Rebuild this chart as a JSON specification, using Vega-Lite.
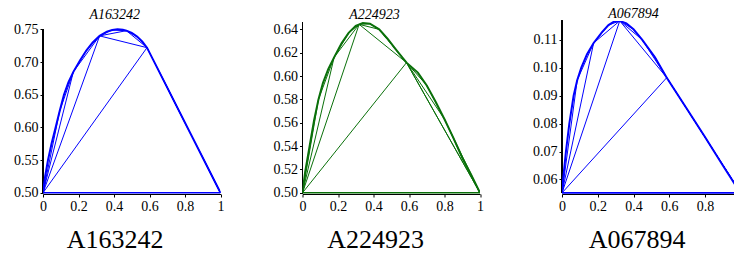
{
  "$schema": "https://vega.github.io/schema/vega-lite/v6.json",
  "padding": {"left": 13, "top": 7, "right": 0, "bottom": 0},
  "background": "white",
  "config": {
    "font": "Liberation Serif",
    "view": {"stroke": null},
    "axis": {"labelFont": "Liberation Serif", "titleFont": "Liberation Serif", "labelColor": "black", "tickColor": "black", "domainColor": "black", "titleColor": "black", "grid": false, "labelFontSize": 14, "tickSize": 3, "labelPadding": 2, "labelFlush": false, "titleFontWeight": "normal", "titleFontSize": 26},
    "title": {"font": "Liberation Serif", "fontStyle": "italic", "fontWeight": "normal", "fontSize": 14, "color": "black", "frame": "group", "offset": -1}
  },
  "bounds": "flush",
  "spacing": 81.5,
  "datasets": {
    "p1": [
      {"s": "L0", "x": 0, "y": 0.5}, {"s": "L0", "x": 1, "y": 0.5},
      {"s": "L1", "x": 0, "y": 0.5}, {"s": "L1", "x": 0.586, "y": 0.722}, {"s": "L1", "x": 1, "y": 0.5},
      {"s": "L2", "x": 0, "y": 0.5}, {"s": "L2", "x": 0.319, "y": 0.74}, {"s": "L2", "x": 0.586, "y": 0.722}, {"s": "L2", "x": 1, "y": 0.5},
      {"s": "L3", "x": 0, "y": 0.5}, {"s": "L3", "x": 0.171, "y": 0.685}, {"s": "L3", "x": 0.319, "y": 0.74}, {"s": "L3", "x": 0.47, "y": 0.748}, {"s": "L3", "x": 0.586, "y": 0.722}, {"s": "L3", "x": 1, "y": 0.5},
      {"s": "L4", "x": 0, "y": 0.5}, {"s": "L4", "x": 0.094, "y": 0.625}, {"s": "L4", "x": 0.171, "y": 0.685}, {"s": "L4", "x": 0.245, "y": 0.718}, {"s": "L4", "x": 0.319, "y": 0.74}, {"s": "L4", "x": 0.39, "y": 0.749}, {"s": "L4", "x": 0.47, "y": 0.748}, {"s": "L4", "x": 0.53, "y": 0.739}, {"s": "L4", "x": 0.586, "y": 0.722}, {"s": "L4", "x": 1, "y": 0.5},
      {"s": "curve", "x": 0, "y": 0.5}, {"s": "curve", "x": 0.012, "y": 0.525}, {"s": "curve", "x": 0.028, "y": 0.55}, {"s": "curve", "x": 0.048, "y": 0.575}, {"s": "curve", "x": 0.071, "y": 0.6}, {"s": "curve", "x": 0.094, "y": 0.625}, {"s": "curve", "x": 0.118, "y": 0.65}, {"s": "curve", "x": 0.143, "y": 0.669}, {"s": "curve", "x": 0.171, "y": 0.685}, {"s": "curve", "x": 0.21, "y": 0.703}, {"s": "curve", "x": 0.245, "y": 0.718}, {"s": "curve", "x": 0.28, "y": 0.73}, {"s": "curve", "x": 0.319, "y": 0.74}, {"s": "curve", "x": 0.36, "y": 0.7465}, {"s": "curve", "x": 0.39, "y": 0.749}, {"s": "curve", "x": 0.42, "y": 0.75}, {"s": "curve", "x": 0.45, "y": 0.7495}, {"s": "curve", "x": 0.47, "y": 0.748}, {"s": "curve", "x": 0.5, "y": 0.7445}, {"s": "curve", "x": 0.53, "y": 0.739}, {"s": "curve", "x": 0.56, "y": 0.731}, {"s": "curve", "x": 0.586, "y": 0.722}, {"s": "curve", "x": 1, "y": 0.5}
    ],
    "p2": [
      {"s": "L0", "x": 0, "y": 0.5}, {"s": "L0", "x": 1, "y": 0.5},
      {"s": "L1", "x": 0, "y": 0.5}, {"s": "L1", "x": 0.586, "y": 0.6115}, {"s": "L1", "x": 1, "y": 0.5},
      {"s": "L2", "x": 0, "y": 0.5}, {"s": "L2", "x": 0.319, "y": 0.6443}, {"s": "L2", "x": 0.586, "y": 0.6115}, {"s": "L2", "x": 1, "y": 0.5},
      {"s": "L3", "x": 0, "y": 0.5}, {"s": "L3", "x": 0.178, "y": 0.616}, {"s": "L3", "x": 0.319, "y": 0.6443}, {"s": "L3", "x": 0.432, "y": 0.64}, {"s": "L3", "x": 0.586, "y": 0.6115}, {"s": "L3", "x": 0.8, "y": 0.563}, {"s": "L3", "x": 1, "y": 0.5},
      {"s": "L4", "x": 0, "y": 0.5}, {"s": "L4", "x": 0.09, "y": 0.58}, {"s": "L4", "x": 0.178, "y": 0.616}, {"s": "L4", "x": 0.26, "y": 0.637}, {"s": "L4", "x": 0.319, "y": 0.6443}, {"s": "L4", "x": 0.38, "y": 0.6448}, {"s": "L4", "x": 0.432, "y": 0.64}, {"s": "L4", "x": 0.53, "y": 0.622}, {"s": "L4", "x": 0.586, "y": 0.6115}, {"s": "L4", "x": 0.7, "y": 0.592}, {"s": "L4", "x": 0.8, "y": 0.563}, {"s": "L4", "x": 0.9, "y": 0.53}, {"s": "L4", "x": 1, "y": 0.5},
      {"s": "curve", "x": 0, "y": 0.5}, {"s": "curve", "x": 0.015, "y": 0.518}, {"s": "curve", "x": 0.04, "y": 0.54}, {"s": "curve", "x": 0.065, "y": 0.562}, {"s": "curve", "x": 0.09, "y": 0.58}, {"s": "curve", "x": 0.115, "y": 0.594}, {"s": "curve", "x": 0.145, "y": 0.606}, {"s": "curve", "x": 0.178, "y": 0.616}, {"s": "curve", "x": 0.22, "y": 0.628}, {"s": "curve", "x": 0.26, "y": 0.637}, {"s": "curve", "x": 0.3, "y": 0.643}, {"s": "curve", "x": 0.34, "y": 0.6455}, {"s": "curve", "x": 0.38, "y": 0.6448}, {"s": "curve", "x": 0.432, "y": 0.64}, {"s": "curve", "x": 0.479, "y": 0.632}, {"s": "curve", "x": 0.53, "y": 0.622}, {"s": "curve", "x": 0.586, "y": 0.6115}, {"s": "curve", "x": 0.65, "y": 0.603}, {"s": "curve", "x": 0.7, "y": 0.592}, {"s": "curve", "x": 0.75, "y": 0.578}, {"s": "curve", "x": 0.8, "y": 0.563}, {"s": "curve", "x": 0.85, "y": 0.547}, {"s": "curve", "x": 0.9, "y": 0.53}, {"s": "curve", "x": 0.95, "y": 0.5155}, {"s": "curve", "x": 1, "y": 0.5}
    ],
    "p3": [
      {"s": "L0", "x": 0, "y": 0.0552}, {"s": "L0", "x": 1, "y": 0.0552},
      {"s": "L1", "x": 0, "y": 0.0552}, {"s": "L1", "x": 0.586, "y": 0.0964}, {"s": "L1", "x": 1, "y": 0.0552},
      {"s": "L2", "x": 0, "y": 0.0552}, {"s": "L2", "x": 0.323, "y": 0.1167}, {"s": "L2", "x": 0.586, "y": 0.0964}, {"s": "L2", "x": 1, "y": 0.0552},
      {"s": "L3", "x": 0, "y": 0.0552}, {"s": "L3", "x": 0.177, "y": 0.1088}, {"s": "L3", "x": 0.323, "y": 0.1167}, {"s": "L3", "x": 0.448, "y": 0.11}, {"s": "L3", "x": 0.586, "y": 0.0964}, {"s": "L3", "x": 1, "y": 0.0552},
      {"s": "L4", "x": 0, "y": 0.0552}, {"s": "L4", "x": 0.085, "y": 0.0955}, {"s": "L4", "x": 0.177, "y": 0.1088}, {"s": "L4", "x": 0.26, "y": 0.1152}, {"s": "L4", "x": 0.323, "y": 0.1167}, {"s": "L4", "x": 0.4, "y": 0.1137}, {"s": "L4", "x": 0.448, "y": 0.11}, {"s": "L4", "x": 0.52, "y": 0.1037}, {"s": "L4", "x": 0.586, "y": 0.0964}, {"s": "L4", "x": 0.8, "y": 0.0752}, {"s": "L4", "x": 1, "y": 0.0552},
      {"s": "curve", "x": 0, "y": 0.0552}, {"s": "curve", "x": 0.006, "y": 0.06}, {"s": "curve", "x": 0.022, "y": 0.07}, {"s": "curve", "x": 0.041, "y": 0.08}, {"s": "curve", "x": 0.065, "y": 0.09}, {"s": "curve", "x": 0.085, "y": 0.0955}, {"s": "curve", "x": 0.108, "y": 0.1}, {"s": "curve", "x": 0.14, "y": 0.1048}, {"s": "curve", "x": 0.177, "y": 0.1088}, {"s": "curve", "x": 0.224, "y": 0.1127}, {"s": "curve", "x": 0.26, "y": 0.1152}, {"s": "curve", "x": 0.29, "y": 0.1164}, {"s": "curve", "x": 0.323, "y": 0.1167}, {"s": "curve", "x": 0.36, "y": 0.1158}, {"s": "curve", "x": 0.4, "y": 0.1137}, {"s": "curve", "x": 0.448, "y": 0.11}, {"s": "curve", "x": 0.52, "y": 0.1037}, {"s": "curve", "x": 0.586, "y": 0.0964}, {"s": "curve", "x": 0.7, "y": 0.0851}, {"s": "curve", "x": 0.8, "y": 0.0752}, {"s": "curve", "x": 0.9, "y": 0.065}, {"s": "curve", "x": 0.97, "y": 0.058}, {"s": "curve", "x": 1, "y": 0.0552}
    ]
  },
  "hconcat": [
    {
      "width": 177.5, "height": 173,
      "title": {"text": "A163242", "dx": -17},
      "data": {"name": "p1"},
      "encoding": {
        "x": {"field": "x", "type": "quantitative", "scale": {"domain": [0, 1], "nice": false, "zero": false},
              "axis": {"values": [0, 0.2, 0.4, 0.6, 0.8, 1], "format": "~g", "title": "A163242", "titleX": 71.7, "titleY": 53, "titleBaseline": "alphabetic", "titleAlign": "center"}},
        "y": {"field": "y", "type": "quantitative", "scale": {"domain": [0.49816, 0.76279], "nice": false, "zero": false},
              "axis": {"values": [0.5, 0.55, 0.6, 0.65, 0.7, 0.75], "format": ".2f", "title": null, "domain": false}}
      },
      "layer": [
        {"mark": {"type": "rule", "color": "black", "strokeWidth": 1}, "encoding": {"x": {"datum": 0, "type": "quantitative"}, "y": {"datum": 0.5, "type": "quantitative"}, "y2": {"datum": 0.75}}},
        {"transform": [{"filter": "datum.s == 'L0'"}], "mark": {"type": "line", "color": "#0000ff", "strokeWidth": 1.6, "clip": true}},
        {"transform": [{"filter": "datum.s != 'L0' && datum.s != 'curve'"}], "mark": {"type": "line", "color": "#0000ff", "strokeWidth": 1, "clip": true}, "encoding": {"detail": {"field": "s"}}},
        {"transform": [{"filter": "datum.s == 'curve'"}], "mark": {"type": "line", "color": "#0000ff", "strokeWidth": 2, "clip": true}}
      ]
    },
    {
      "width": 177.5, "height": 173,
      "title": {"text": "A224923", "dx": -16.7},
      "data": {"name": "p2"},
      "encoding": {
        "x": {"field": "x", "type": "quantitative", "scale": {"domain": [0, 1], "nice": false, "zero": false},
              "axis": {"values": [0, 0.2, 0.4, 0.6, 0.8, 1], "format": "~g", "title": "A224923", "titleX": 72.7, "titleY": 53, "titleBaseline": "alphabetic", "titleAlign": "center"}},
        "y": {"field": "y", "type": "quantitative", "scale": {"domain": [0.49897, 0.64717], "nice": false, "zero": false},
              "axis": {"values": [0.5, 0.52, 0.54, 0.56, 0.58, 0.6, 0.62, 0.64], "format": ".2f", "title": null, "domain": false}}
      },
      "layer": [
        {"mark": {"type": "rule", "color": "black", "strokeWidth": 1}, "encoding": {"x": {"datum": 0, "type": "quantitative"}, "y": {"datum": 0.5, "type": "quantitative"}, "y2": {"datum": 0.6455}}},
        {"transform": [{"filter": "datum.s == 'L0'"}], "mark": {"type": "line", "color": "#0a700a", "strokeWidth": 1.6, "clip": true}},
        {"transform": [{"filter": "datum.s != 'L0' && datum.s != 'curve'"}], "mark": {"type": "line", "color": "#0a700a", "strokeWidth": 1, "clip": true}, "encoding": {"detail": {"field": "s"}}},
        {"transform": [{"filter": "datum.s == 'curve'"}], "mark": {"type": "line", "color": "#0a700a", "strokeWidth": 2, "clip": true}}
      ]
    },
    {
      "width": 173.5, "height": 173,
      "title": {"text": "A067894", "dx": -15.3},
      "data": {"name": "p3"},
      "encoding": {
        "x": {"field": "x", "type": "quantitative", "scale": {"domain": [0, 0.9706], "nice": false, "zero": false},
              "axis": {"values": [0, 0.2, 0.4, 0.6, 0.8], "format": "~g", "title": "A067894", "titleX": 74.7, "titleY": 53, "titleBaseline": "alphabetic", "titleAlign": "center"}},
        "y": {"field": "y", "type": "quantitative", "scale": {"domain": [0.05481, 0.11666], "nice": false, "zero": false},
              "axis": {"values": [0.06, 0.07, 0.08, 0.09, 0.1, 0.11], "format": ".2f", "title": null, "domain": false}}
      },
      "layer": [
        {"mark": {"type": "rule", "color": "black", "strokeWidth": 1}, "encoding": {"x": {"datum": 0, "type": "quantitative"}, "y": {"datum": 0.0552, "type": "quantitative"}, "y2": {"datum": 0.1167}}},
        {"transform": [{"filter": "datum.s == 'L0'"}], "mark": {"type": "line", "color": "#0000ff", "strokeWidth": 1.6, "clip": true}},
        {"transform": [{"filter": "datum.s != 'L0' && datum.s != 'curve'"}], "mark": {"type": "line", "color": "#0000ff", "strokeWidth": 1, "clip": true}, "encoding": {"detail": {"field": "s"}}},
        {"transform": [{"filter": "datum.s == 'curve'"}], "mark": {"type": "line", "color": "#0000ff", "strokeWidth": 2, "clip": true}}
      ]
    }
  ]
}
